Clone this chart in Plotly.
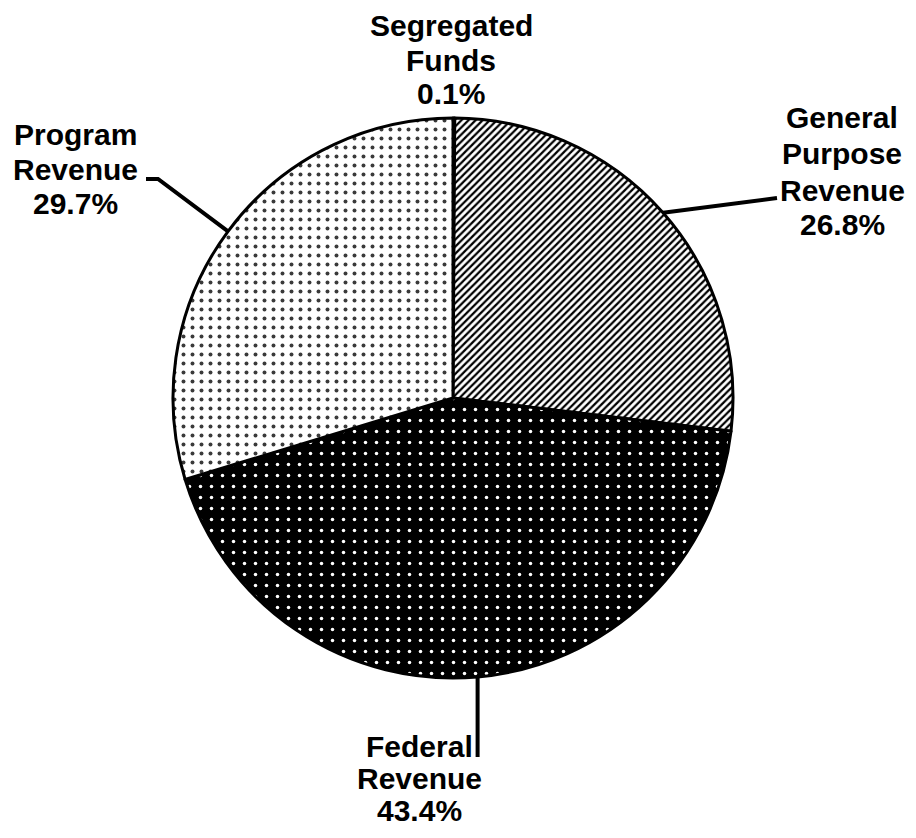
import math
import plotly.graph_objects as go

# ---- data ----
labels = ["Segregated Funds", "General Purpose Revenue", "Federal Revenue", "Program Revenue"]
values = [0.1, 26.8, 43.4, 29.7]
label_lines = [
    ["Segregated", "Funds", "0.1%"],
    ["General", "Purpose", "Revenue", "26.8%"],
    ["Federal", "Revenue", "43.4%"],
    ["Program", "Revenue", "29.7%"],
]

# ---- layout geometry (pixels in the 916x838 window) ----
OFF = 8                      # page body margin
W, H = 916 - 2 * OFF, 838 - 2 * OFF
cx, cy, R = 453, 398, 280

def px(x):
    return (x - OFF) / W

def py(y):
    return 1 - (y - OFF) / H

fig = go.Figure()
fig.add_trace(go.Pie(
    labels=labels,
    values=values,
    sort=False,
    direction="clockwise",
    rotation=0,
    textinfo="none",
    hoverinfo="label+percent",
    showlegend=False,
    domain=dict(x=[px(cx - R), px(cx + R)], y=[py(cy + R), py(cy - R)]),
    marker=dict(
        colors=["black", "white", "black", "white"],
        line=dict(color="black", width=3),
        pattern=dict(
            shape=["", "/", ".", "."],
            bgcolor=["black", "white", "black", "white"],
            fgcolor=["black", "black", "white", "#3a3a3a"],
            size=[8, 5, 11, 9],
            solidity=[0.3, 0.45, 0.08, 0.15],
            fillmode="replace",
        ),
    ),
))

# mid angles of each slice, computed from the data
total = sum(values)
cum = 0
mids = []
for v in values:
    a = (cum + v / 2) / total * 2 * math.pi
    mids.append(a)
    cum += v

def edge(a):
    return cx + R * math.sin(a), cy - R * math.cos(a)

# leader lines
gx, gy = edge(mids[1])
fx, fy = edge(mids[2])
qx, qy = edge(mids[3])
lw = 4
shapes = [
    dict(type="path", path=f"M {px(gx)},{py(gy)} L {px(777)},{py(198)}"),
    dict(type="path", path=f"M {px(fx)},{py(fy)} L {px(fx)},{py(757)}"),
    dict(type="path", path=f"M {px(qx)},{py(qy)} L {px(158)},{py(179)} L {px(146)},{py(179)}"),
]
for s in shapes:
    s.update(xref="paper", yref="paper", line=dict(color="black", width=lw))
fig.update_layout(shapes=shapes)

# label positions (line centres in pixels)
label_pos = [
    (451, [26, 60, 93]),
    (842, [117, 153, 190, 225]),
    (419, [746, 778, 810]),
    (75, [135, 169, 203]),
]
for lines, (lx, ys) in zip(label_lines, label_pos):
    for t, yy in zip(lines, ys):
        fig.add_annotation(
            x=px(lx), y=py(yy), xref="paper", yref="paper",
            text=f"<b>{t}</b>", showarrow=False,
            xanchor="center", yanchor="middle",
            font=dict(family="Liberation Sans, Arial, sans-serif", size=30, color="black"),
        )

fig.update_layout(
    width=W, height=H,
    margin=dict(l=0, r=0, t=0, b=0),
    paper_bgcolor="white",
    plot_bgcolor="white",
)

fig.write_html("out.html")
